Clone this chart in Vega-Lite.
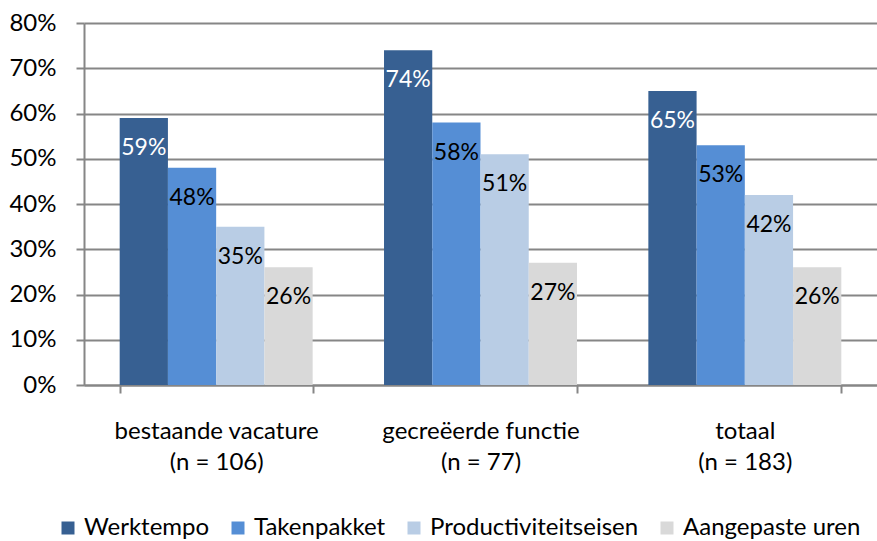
{
  "$schema": "https://vega.github.io/schema/vega-lite/v6.json",
  "width": 793,
  "height": 362,
  "autosize": {"type": "none"},
  "padding": {"left": 84, "top": 23, "right": 0, "bottom": 156},
  "background": "white",
  "config": {
    "view": {"stroke": null},
    "font": "Lato",
    "axis": {"labelFont": "Lato", "labelColor": "#000000"}
  },
  "data": {
    "values": [
      {"groep": "bestaande vacature|(n = 106)", "reden": "Werktempo", "pct": 0.59},
      {"groep": "bestaande vacature|(n = 106)", "reden": "Takenpakket", "pct": 0.48},
      {"groep": "bestaande vacature|(n = 106)", "reden": "Productiviteitseisen", "pct": 0.35},
      {"groep": "bestaande vacature|(n = 106)", "reden": "Aangepaste uren", "pct": 0.26},
      {"groep": "gecreëerde functie|(n = 77)", "reden": "Werktempo", "pct": 0.74},
      {"groep": "gecreëerde functie|(n = 77)", "reden": "Takenpakket", "pct": 0.58},
      {"groep": "gecreëerde functie|(n = 77)", "reden": "Productiviteitseisen", "pct": 0.51},
      {"groep": "gecreëerde functie|(n = 77)", "reden": "Aangepaste uren", "pct": 0.27},
      {"groep": "totaal|(n = 183)", "reden": "Werktempo", "pct": 0.65},
      {"groep": "totaal|(n = 183)", "reden": "Takenpakket", "pct": 0.53},
      {"groep": "totaal|(n = 183)", "reden": "Productiviteitseisen", "pct": 0.42},
      {"groep": "totaal|(n = 183)", "reden": "Aangepaste uren", "pct": 0.26}
    ]
  },
  "encoding": {
    "x": {
      "field": "groep",
      "type": "nominal",
      "sort": null,
      "scale": {"paddingInner": 0.27, "paddingOuter": 0.135},
      "axis": {
        "title": null,
        "labelAngle": 0,
        "labelExpr": "split(datum.label, '|')",
        "labelFontSize": 24,
        "labelLineHeight": 31,
        "labelPadding": 26,
        "labelBaseline": "top",
        "labelLimit": 0,
        "tickBand": "extent",
        "tickSize": 8,
        "tickColor": "#868686",
        "tickWidth": 2,
        "domainColor": "#868686",
        "domainWidth": 2
      }
    },
    "xOffset": {"field": "reden", "type": "nominal", "sort": null, "scale": {"paddingInner": 0, "paddingOuter": 0}},
    "y": {
      "field": "pct",
      "type": "quantitative",
      "scale": {"domain": [0, 0.8]},
      "axis": {
        "title": null,
        "format": ".0%",
        "values": [0, 0.1, 0.2, 0.3, 0.4, 0.5, 0.6, 0.7, 0.8],
        "labelFontSize": 24,
        "labelPadding": 20,
        "tickSize": 8,
        "tickColor": "#868686",
        "tickWidth": 2,
        "domainColor": "#868686",
        "domainWidth": 2,
        "grid": true,
        "gridColor": "#868686",
        "gridWidth": 2
      }
    }
  },
  "layer": [
    {
      "mark": {"type": "bar"},
      "encoding": {
        "color": {
          "field": "reden",
          "type": "nominal",
          "sort": null,
          "scale": {
            "domain": ["Werktempo", "Takenpakket", "Productiviteitseisen", "Aangepaste uren"],
            "range": ["#376092", "#558ED5", "#B9CDE5", "#D9D9D9"]
          },
          "legend": {
            "title": null,
            "orient": "none",
            "direction": "horizontal",
            "legendX": -28,
            "legendY": 493,
            "symbolType": "square",
            "symbolSize": 169,
            "symbolStrokeWidth": 0,
            "labelFontSize": 24,
            "labelFont": "Lato",
            "labelColor": "#000000",
            "labelLimit": 0,
            "labelOffset": 4,
            "columnPadding": 16
          }
        }
      }
    },
    {
      "mark": {"type": "text", "baseline": "middle", "dy": 30, "fontSize": 23, "font": "Lato"},
      "encoding": {
        "text": {"field": "pct", "type": "quantitative", "format": ".0%"},
        "color": {
          "condition": {"test": "datum.reden === 'Werktempo'", "value": "#ffffff"},
          "value": "#000000"
        }
      }
    }
  ]
}
